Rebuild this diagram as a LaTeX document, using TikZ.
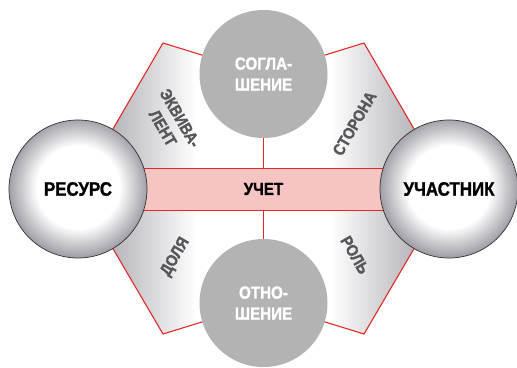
\documentclass[tikz,border=0pt]{standalone}
\usepackage{fontspec}
\setmainfont{Liberation Sans}[FakeStretch=0.87, BoldFont={Liberation Sans Bold}, BoldFeatures={FakeStretch=0.87, FakeBold=1.2}]
\definecolor{hexred}{RGB}{228,40,40}
\definecolor{barpink}{RGB}{247,196,196}
\definecolor{diskgray}{RGB}{179,179,179}
\definecolor{labelgray}{RGB}{85,85,90}
\definecolor{edgegray}{RGB}{152,152,160}
\definecolor{ballrim}{RGB}{160,160,167}
\pgfdeclarehorizontalshading{panelshade}{100bp}{color(0bp)=(edgegray); color(25bp)=(edgegray); color(41bp)=(white); color(59bp)=(white); color(75bp)=(edgegray); color(100bp)=(edgegray)}
\pgfdeclareradialshading{ballshade}{\pgfpoint{0bp}{1bp}}{color(0bp)=(white); color(15bp)=(white); color(25bp)=(ballrim); color(50bp)=(ballrim)}
\tikzset{
  ball/.style={circle, minimum size=138bp, inner sep=0pt, shade, shading=ballshade,
    draw=black!80, line width=0.7bp, text=black, font=\bfseries\fontsize{19.5}{21}\selectfont},
  disk/.style={circle, minimum size=128bp, inner sep=0pt, fill=diskgray, text=white,
    align=center, font=\bfseries\fontsize{17.5}{21}\selectfont},
  barbox/.style={rectangle, minimum width=250bp, minimum height=42bp, inner sep=0pt,
    fill=barpink, draw=hexred, line width=1bp, font=\bfseries\fontsize{17.5}{21}\selectfont},
  sidelabel/.style={text=labelgray, align=center, inner sep=0pt,
    font=\bfseries\fontsize{16.5}{20}\selectfont},
  redline/.style={draw=hexred, line width=1.1bp}
}
\begin{document}
\begin{tikzpicture}[x=1bp,y=1bp]
\useasboundingbox (0,0) rectangle (517,367);
% panel shape
\shadedraw[shading=panelshade, redline]
  (263.5,293) -- (163,324) -- (78,178) -- (163,33) -- (263.5,64)
  -- (364,33) -- (449,178) -- (364,324) -- cycle;
% bar
\node[barbox] (bar) at (263.5,178) {УЧЕТ};
% top and bottom disks
\node[disk] (T) at (263.5,293) {СОГЛА-\\ШЕНИЕ};
\node[disk] (B) at (263.5,64) {ОТНО-\\ШЕНИЕ};
% connectors
\draw[redline] (T.south) -- (T.south |- bar.north);
\draw[redline] (B.north |- bar.south) -- (B.north);
% balls
\node[ball] (L) at (78,178) {РЕСУРС};
\node[ball] (R) at (449,178) {УЧАСТНИК};
% side labels
\node[sidelabel, rotate=-60] (eq) at (171.5,244) {ЭКВИВА-\\ЛЕНТ};
\node[sidelabel, rotate=60] (st) at (354.5,243.5) {СТОРОНА};
\node[sidelabel, rotate=60] (dl) at (175.5,110) {ДОЛЯ};
\node[sidelabel, rotate=-60] (rl) at (355,112) {РОЛЬ};
\end{tikzpicture}
\end{document}
